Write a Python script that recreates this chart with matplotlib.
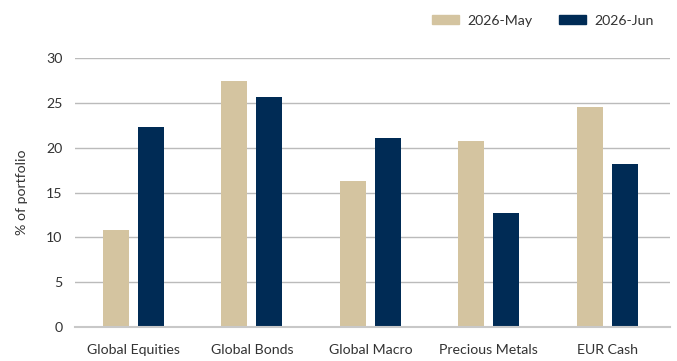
import numpy as np
import matplotlib
matplotlib.use("Agg")
import matplotlib.pyplot as plt
from matplotlib.patches import Patch

categories = ["Global Equities", "Global Bonds", "Global Macro", "Precious Metals", "EUR Cash"]
may_values = [10.8, 27.4, 16.3, 20.8, 24.6]
jun_values = [22.3, 25.7, 21.1, 12.7, 18.2]
y_ticks = [0, 5, 10, 15, 20, 25, 30]

MAY_COLOR = "#D4C4A0"
JUN_COLOR = "#002B55"
TEXT_COLOR = "#333333"
FS = 10.2

plt.rcParams["font.family"] = ["Lato", "DejaVu Sans"]

fig = plt.figure(figsize=(6.77, 3.61), dpi=100)
ax = fig.add_axes([0.111, 0.094, 0.879, 0.745])

x = np.arange(len(categories))
width = 0.22
offset = 0.148
ax.bar(x - offset, may_values, width, color=MAY_COLOR, zorder=3)
ax.bar(x + offset, jun_values, width, color=JUN_COLOR, zorder=3)

ax.set_xlim(-0.49, 4.53)
ax.set_ylim(0, 30)
ax.set_yticks(y_ticks)
ax.set_xticks(x)
ax.set_xticklabels(categories)

# gridlines only, no frame
ax.yaxis.grid(True, color="#BBBBBB", linewidth=1.0, zorder=0)
for side in ["left", "right", "top"]:
    ax.spines[side].set_visible(False)
ax.spines["bottom"].set_color("#C8C8C8")
ax.spines["bottom"].set_linewidth(1.5)
ax.spines["bottom"].set_zorder(4)

ax.tick_params(axis="both", length=0, labelsize=FS, colors=TEXT_COLOR)
ax.tick_params(axis="x", pad=12)
ax.tick_params(axis="y", pad=9)
ax.set_ylabel("% of portfolio", fontsize=FS, color=TEXT_COLOR, labelpad=13)

handles = [Patch(color=MAY_COLOR, label="2026-May"), Patch(color=JUN_COLOR, label="2026-Jun")]
fig.legend(handles=handles, loc="upper right", bbox_to_anchor=(0.985, 0.995), ncol=2,
           frameon=False, fontsize=FS, handlelength=1.9, handleheight=0.55,
           columnspacing=1.9, handletextpad=0.6, labelcolor=TEXT_COLOR)

fig.savefig("out.png", dpi=100)
